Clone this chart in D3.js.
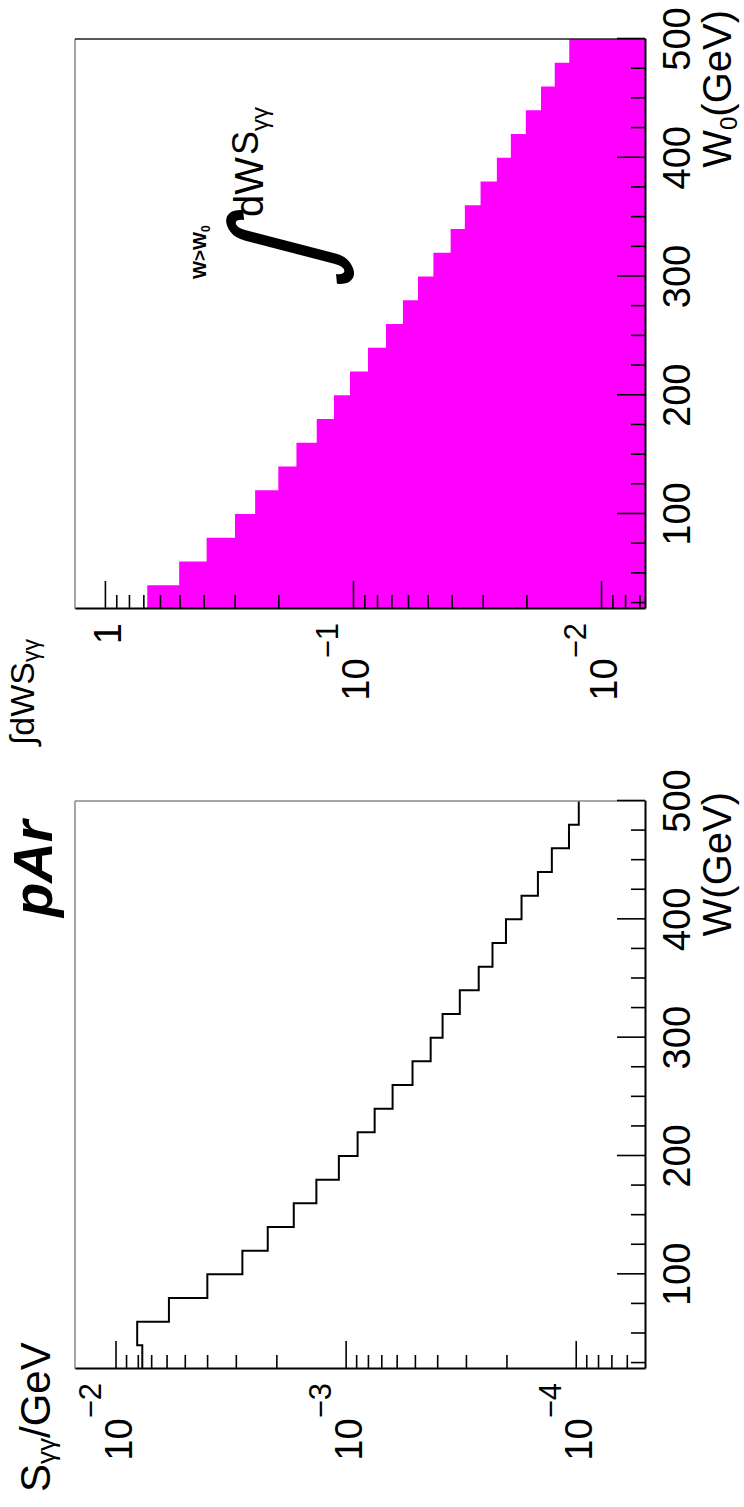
<!DOCTYPE html>
<html><head><meta charset="utf-8">
<script src="https://cdn.jsdelivr.net/npm/d3@7"></script>
<style>html,body{margin:0;padding:0;background:#fff;} svg{display:block;}</style>
</head><body>
<svg id="c" width="744" height="1507"></svg>
<script>
// ---------------- data ----------------
const W_LOW = [20,40,60,80,100,120,140,160,180,200,220,240,260,280,300,320,340,360,380,400,420,440,460,480];
const W_MAX = 500;
// S_gamma-gamma per GeV (left panel)
const S_GG = [7.65e-3,8.05e-3,5.86e-3,3.99e-3,2.81e-3,2.18e-3,1.68e-3,1.34e-3,1.07e-3,8.87e-4,7.48e-4,6.25e-4,
              5.12e-4,4.27e-4,3.79e-4,3.19e-4,2.64e-4,2.30e-4,2.01e-4,1.72e-4,1.46e-4,1.27e-4,1.07e-4,9.7e-5];
// integral over W > W0 (right panel)
const INT_S = [0.675,0.502,0.389,0.299,0.248,0.200,0.169,0.140,0.1193,0.1028,0.0870,0.0736,
               0.0629,0.0547,0.0474,0.0404,0.0354,0.0306,0.0263,0.0231,0.0201,0.01746,0.01537,0.01343];
const W_MAJOR = [100,200,300,400,500];
const W_MAJOR_LABELS = ["100","200","300","400","500"];
const W_MINOR = [25,50,75,125,150,175,225,250,275,325,350,375,425,450,475];
const S_DECADES = [1e-2,1e-3,1e-4];
const S_DEC_LABELS = [["10","\u22122"],["10","\u22123"],["10","\u22124"]];
const I_DECADES = [1,1e-1,1e-2];
const I_DEC_LABELS = [["1",""],["10","\u22121"],["10","\u22122"]];

// ---------------- drawing ----------------
const FONT = "'Liberation Sans', Arial, Helvetica, sans-serif";
const svg = d3.select("#c");
svg.append("rect").attr("width",744).attr("height",1507).attr("fill","#fff");
// landscape page rotated by -90 degrees
const g = svg.append("g").attr("transform","translate(0,1507) rotate(-90)")
  .style("font-family", FONT);

const TOP = 75, BOT = 645;

function drawAxes(x, y, x0, x1, edgeColor, decades, decLabels){
  g.append("line").attr("x1",x0).attr("x2",x1).attr("y1",TOP).attr("y2",TOP)
    .attr("stroke","#888").attr("stroke-width",1.5);
  g.append("line").attr("x1",x1).attr("x2",x1).attr("y1",TOP).attr("y2",BOT)
    .attr("stroke",edgeColor).attr("stroke-width",1.5);
  const ax = g.append("g").attr("transform",`translate(0,${BOT})`)
    .call(d3.axisTop(x).tickValues(W_MAJOR).tickSize(28).tickSizeOuter(0).tickFormat(""));
  ax.select(".domain").attr("stroke","#000").attr("stroke-width",2);
  ax.selectAll(".tick line").attr("stroke","#000").attr("stroke-width",1.6);
  const axm = g.append("g").attr("transform",`translate(0,${BOT})`)
    .call(d3.axisTop(x).tickValues(W_MINOR).tickSize(14).tickFormat(""));
  axm.select(".domain").remove();
  axm.selectAll(".tick line").attr("stroke","#000").attr("stroke-width",1.6);
  g.selectAll(null).data(W_MAJOR).enter().append("text")
    .attr("x",d=>x(d)).attr("y",690).attr("text-anchor","middle")
    .attr("font-size",38).text((d,i)=>W_MAJOR_LABELS[i]);
  const ay = g.append("g").attr("transform",`translate(${x0},0)`)
    .call(d3.axisRight(y).tickValues(decades).tickSize(28).tickSizeOuter(0).tickFormat(""));
  ay.select(".domain").attr("stroke","#000").attr("stroke-width",2);
  ay.selectAll(".tick line").attr("stroke","#000").attr("stroke-width",1.6);
  const minor = y.ticks().filter(t => !decades.some(d=>Math.abs(d-t)/d<1e-6) && Math.abs(y(t)-BOT)>3 && y(t)>TOP+2);
  const aym = g.append("g").attr("transform",`translate(${x0},0)`)
    .call(d3.axisRight(y).tickValues(minor).tickSize(14).tickFormat(""));
  aym.select(".domain").remove();
  aym.selectAll(".tick line").attr("stroke","#000").attr("stroke-width",1.6);
  decades.forEach((d,i)=>{
    const t = g.append("text").attr("x",x0-14).attr("y",y(d)+16)
      .attr("text-anchor","end");
    t.append("tspan").attr("font-size",38).text(decLabels[i][0]);
    if(decLabels[i][1]) t.append("tspan").attr("font-size",31).attr("dy",-31).text(decLabels[i][1]);
  });
}

// ---- left panel ----
const xL = d3.scaleLinear().domain([20,500]).range([138,706]);
const yL = d3.scaleLog().domain([5e-5,1.5e-2]).range([BOT,TOP]);
const ptsL = W_LOW.map((w,i)=>[w,S_GG[i]]).concat([[W_MAX,S_GG[S_GG.length-1]]]);
g.append("path").datum(ptsL)
  .attr("d", d3.line().x(d=>xL(d[0])).y(d=>yL(d[1])).curve(d3.curveStepAfter))
  .attr("fill","none").attr("stroke","#000").attr("stroke-width",2);
drawAxes(xL, yL, 138, 706, "#888", S_DECADES, S_DEC_LABELS);

// ---- right panel ----
const xR = d3.scaleLinear().domain([20,500]).range([898,1468]);
const yR = d3.scaleLog().domain([6.65e-3,1.32]).range([BOT,TOP]);
const ptsR = W_LOW.map((w,i)=>[w,INT_S[i]]).concat([[W_MAX,INT_S[INT_S.length-1]]]);
g.append("path").datum(ptsR)
  .attr("d", d3.area().x(d=>xR(d[0])).y0(BOT).y1(d=>yR(d[1])).curve(d3.curveStepAfter))
  .attr("fill","#ff00ff").attr("stroke","none");
drawAxes(xR, yR, 898, 1468, "#222", I_DECADES, I_DEC_LABELS);

// ---- titles ----
const tl = g.append("text").attr("x",15).attr("y",50).attr("font-size",42);
tl.append("tspan").text("S");
tl.append("tspan").attr("font-size",26).attr("dy",5).text("\u03b3\u03b3");
tl.append("tspan").attr("dy",-5).text("/GeV");

g.append("text").attr("x",715).attr("y",731).attr("text-anchor","end")
  .attr("font-size",40).text("W(GeV)");

const tr = g.append("text").attr("x",1497).attr("y",731).attr("text-anchor","end").attr("font-size",40);
tr.append("tspan").text("W");
tr.append("tspan").attr("font-size",24).attr("dy",6).text("0");
tr.append("tspan").attr("dy",-6).text("(GeV)");

const ty = g.append("text").attr("x",762).attr("y",34).attr("font-size",34);
ty.append("tspan").attr("font-size",34).text("\u222b");
ty.append("tspan").text("dWS");
ty.append("tspan").attr("font-size",23).attr("dy",5).text("\u03b3\u03b3");

g.append("text").attr("x",590).attr("y",52).attr("font-size",56)
  .attr("font-weight","bold").attr("font-style","italic").text("pAr");

// integral annotation
const lim = g.append("text").attr("x",1228).attr("y",206).attr("font-size",19).attr("font-weight","bold");
lim.append("tspan").text("W>W");
lim.append("tspan").attr("font-size",12).attr("dy",4).text("0");
g.append("text").attr("transform","translate(1218,326) skewX(-12)").attr("font-size",132)
  .attr("font-family","'DejaVu Sans', sans-serif").text("\u222b");
g.append("text").attr("x",1290).attr("y",263).attr("font-size",40).text("dW");
const sa = g.append("text").attr("x",1352).attr("y",258).attr("font-size",36);
sa.append("tspan").text("S");
sa.append("tspan").attr("font-size",24).attr("dy",10).text("\u03b3\u03b3");
</script>
</body></html>
